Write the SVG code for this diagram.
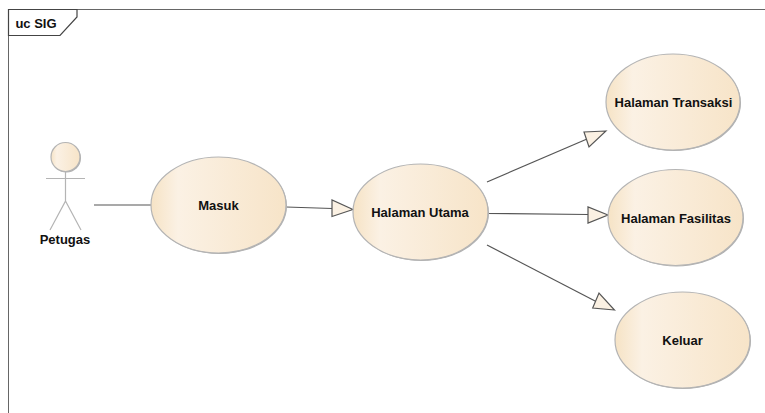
<svg xmlns="http://www.w3.org/2000/svg" width="765" height="413" viewBox="0 0 765 413">
<style>
text{font-family:"Liberation Sans",Arial,sans-serif;font-size:13px;font-weight:bold;fill:#111;text-anchor:middle}
.uc{fill:url(#g);stroke:#b4b4b4;stroke-width:1.2}
.sh{fill:#b0b0b0}
.frame{fill:none;stroke:#666;stroke-width:1}
.line{fill:none;stroke:#555;stroke-width:1.2}
.tri{fill:#fbf1e3;stroke:#555;stroke-width:1.2;stroke-linejoin:miter}
.act{fill:none;stroke:#b4b4b4;stroke-width:1.2}
</style>
<defs>
<linearGradient id="g" x1="0" x2="1" y1="0" y2="0">
<stop offset="0" stop-color="#f6e3c5"/>
<stop offset="0.2" stop-color="#fbf1e4"/>
<stop offset="1" stop-color="#f7e4c8"/>
</linearGradient>
</defs>
<rect width="765" height="413" fill="#fff"/>
<g id="frame">
<path class="frame" d="M765 9.500H8.500V413"/>
<path class="frame" style="stroke:#444;stroke-width:1.200" d="M8.500 9.500H77V17L60 35.500H8.500Z"/>
<text x="36" y="28">uc SIG</text>
</g>
<g id="connectors">
<path class="line" d="M94 205H151"/>
<path class="line" d="M286 207L332 208.500"/>
<path class="tri" d="M353 209.500L332 200V216.500Z"/>
<path class="line" d="M487 182L587 139"/>
<path class="tri" d="M606 131L584 132L589 147Z"/>
<path class="line" d="M488 213.500L588 214.500"/>
<path class="tri" d="M608 215L588 207V223Z"/>
<path class="line" d="M487 245L597 302"/>
<path class="tri" d="M614.500 310L592.700 308L599 293Z"/>
</g>
<g id="actor-petugas">
<circle class="sh" cx="66.500" cy="158" r="14.500"/>
<circle class="uc" cx="65.500" cy="157" r="14.500"/>
<path class="act" d="M46 178.500H85M65.500 171.500V201L50 230M65.500 201L81 230"/>
<text x="65" y="244">Petugas</text>
</g>
<g id="uc-masuk">
<ellipse class="sh" cx="219.500" cy="206" rx="67.500" ry="48"/>
<ellipse class="uc" cx="218.500" cy="205" rx="67.500" ry="48"/>
<text x="218.500" y="210">Masuk</text>
</g>
<g id="uc-halaman-utama">
<ellipse class="sh" cx="421.500" cy="213" rx="67.500" ry="48"/>
<ellipse class="uc" cx="420.500" cy="212" rx="67.500" ry="48"/>
<text x="420" y="217">Halaman Utama</text>
</g>
<g id="uc-halaman-transaksi">
<ellipse class="sh" cx="674" cy="103" rx="67" ry="48"/>
<ellipse class="uc" cx="673" cy="102" rx="67" ry="48"/>
<text x="673.500" y="107">Halaman Transaksi</text>
</g>
<g id="uc-halaman-fasilitas">
<ellipse class="sh" cx="676.500" cy="218.500" rx="67.500" ry="48"/>
<ellipse class="uc" cx="675.500" cy="217.500" rx="67.500" ry="48"/>
<text x="676" y="223">Halaman Fasilitas</text>
</g>
<g id="uc-keluar">
<ellipse class="sh" cx="683.500" cy="341" rx="67.500" ry="48"/>
<ellipse class="uc" cx="682.500" cy="340" rx="67.500" ry="48"/>
<text x="682.500" y="345">Keluar</text>
</g>
</svg>
